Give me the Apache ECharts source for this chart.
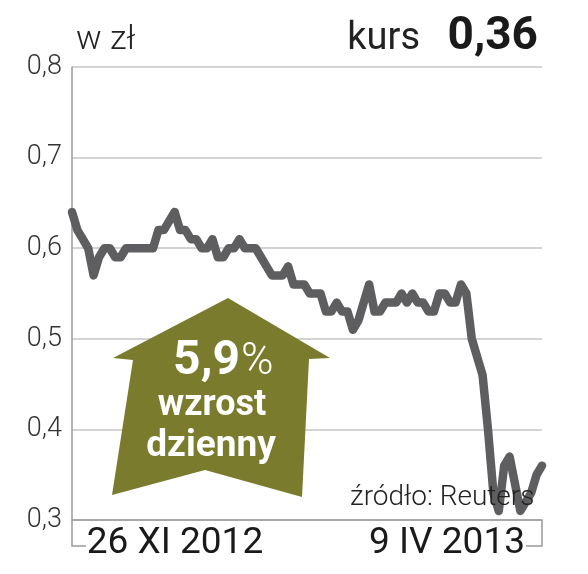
<!DOCTYPE html>
<html>
<head>
<meta charset="utf-8">
<script src="https://cdn.jsdelivr.net/npm/echarts@6/dist/echarts.min.js"></script>
<style>
html,body{margin:0;padding:0;background:#fff;}
#chart{width:588px;height:574px;}
</style>
</head>
<body>
<div id="chart"></div>
<script>
// Daily closing price (zł), 26 XI 2012 – 9 IV 2013
const prices = [
  0.64,0.62,0.61,0.60,0.57,0.59,0.60,0.60,0.59,0.59,
  0.60,0.60,0.60,0.60,0.60,0.60,0.62,0.62,0.63,0.64,
  0.62,0.62,0.61,0.61,0.60,0.60,0.61,0.59,0.59,0.60,
  0.60,0.61,0.60,0.60,0.60,0.59,0.58,0.57,0.57,0.57,
  0.58,0.56,0.56,0.56,0.55,0.55,0.55,0.53,0.53,0.54,
  0.53,0.53,0.51,0.52,0.54,0.56,0.53,0.53,0.54,0.54,
  0.54,0.55,0.54,0.55,0.54,0.54,0.53,0.53,0.55,0.55,
  0.54,0.54,0.56,0.55,0.50,0.48,0.46,0.40,0.33,0.31,
  0.36,0.37,0.34,0.31,0.32,0.33,0.35,0.36
];
const days = prices.map((_, i) => String(i + 1));
const yTicks = [0.3, 0.4, 0.5, 0.6, 0.7, 0.8];
const startLabel = '26 XI 2012';
const endLabel = '9 IV 2013';
const unitLabel = 'w zł';
const kursLabel = 'kurs';
const lastValue = '0,36';
const changeValue = '5,9';
const changeLine1 = 'wzrost';
const changeLine2 = 'dzienny';
const sourceLabel = 'źródło: Reuters';

const chart = echarts.init(document.getElementById('chart'), null, {renderer: 'canvas'});
const font = 'Roboto, sans-serif';
const olive = '#7a7b2d';

chart.setOption({
  animation: false,
  backgroundColor: '#ffffff',
  grid: {left: 72, right: 46, top: 67, bottom: 54, containLabel: false},
  xAxis: {
    type: 'category',
    data: days,
    boundaryGap: false,
    axisLine: {show: true, lineStyle: {color: '#9a9a9a', width: 1.5}},
    axisTick: {show: false},
    axisLabel: {show: false},
    splitLine: {show: false}
  },
  yAxis: {
    type: 'value',
    min: yTicks[0],
    max: yTicks[yTicks.length - 1],
    interval: 0.1,
    axisLine: {show: true, lineStyle: {color: '#9a9a9a', width: 1.5}},
    axisTick: {show: false},
    axisLabel: {
      margin: 10,
      color: '#333',
      fontSize: 27,
      fontFamily: font,
      fontWeight: 300,
      formatter: v => v.toFixed(1).replace('.', ',')
    },
    splitLine: {show: true, lineStyle: {color: '#c4c4c4', width: 1.5}}
  },
  series: [{
    type: 'line',
    data: prices,
    symbol: 'none',
    z: 5,
    lineStyle: {color: '#5e5e60', width: 8.5, cap: 'round', join: 'round'}
  }],
  graphic: [
    {type: 'text', z: 10, style: {text: unitLabel, x: 76, y: 57, textVerticalAlign: 'bottom', fill: '#222', fontSize: 34, fontFamily: font, fontWeight: 300}},
    {type: 'text', z: 10, style: {text: kursLabel, x: 420, y: 58, textAlign: 'right', textVerticalAlign: 'bottom', fill: '#222', fontSize: 38, fontFamily: font}},
    {type: 'text', z: 10, style: {text: lastValue, x: 538, y: 60, textAlign: 'right', textVerticalAlign: 'bottom', fill: '#1a1a1a', fontSize: 46, fontFamily: font, fontWeight: 'bold'}},
    {type: 'polygon', z: 3, shape: {points: [[228,298],[330,358],[309,359],[302,497],[205,470],[112,495],[133,360],[113,358]]}, style: {fill: olive}},
    {type: 'text', z: 10, style: {text: changeValue, x: 240, y: 386, textAlign: 'right', textVerticalAlign: 'bottom', fill: '#fff', fontSize: 48, fontFamily: font, fontWeight: 'bold'}},
    {type: 'text', z: 10, style: {text: '%', x: 241, y: 385, textAlign: 'left', textVerticalAlign: 'bottom', fill: '#fff', fontSize: 44, fontFamily: font, fontWeight: 300}},
    {type: 'text', z: 10, style: {text: changeLine1, x: 212, y: 424, textAlign: 'center', textVerticalAlign: 'bottom', fill: '#fff', fontSize: 36, fontFamily: font, fontWeight: 'bold'}},
    {type: 'text', z: 10, style: {text: changeLine2, x: 211, y: 465, textAlign: 'center', textVerticalAlign: 'bottom', fill: '#fff', fontSize: 37, fontFamily: font, fontWeight: 'bold'}},
    {type: 'text', z: 100, zlevel: 1, style: {text: sourceLabel, x: 350, y: 512, textVerticalAlign: 'bottom', fill: '#222', fontSize: 28, fontFamily: font, fontWeight: 300}},
    {type: 'polyline', z: 1, shape: {points: [[72,520],[72,546],[86,546]]}, style: {stroke: '#9a9a9a', lineWidth: 1.5, fill: null}},
    {type: 'polyline', z: 1, shape: {points: [[526,546],[542,546],[542,520]]}, style: {stroke: '#9a9a9a', lineWidth: 1.5, fill: null}},
    {type: 'text', z: 10, style: {text: startLabel, x: 175, y: 562, textAlign: 'center', textVerticalAlign: 'bottom', fill: '#1a1a1a', fontSize: 37, fontFamily: font}},
    {type: 'text', z: 10, style: {text: endLabel, x: 447, y: 562, textAlign: 'center', textVerticalAlign: 'bottom', fill: '#1a1a1a', fontSize: 37, fontFamily: font}}
  ]
});
</script>
</body>
</html>
